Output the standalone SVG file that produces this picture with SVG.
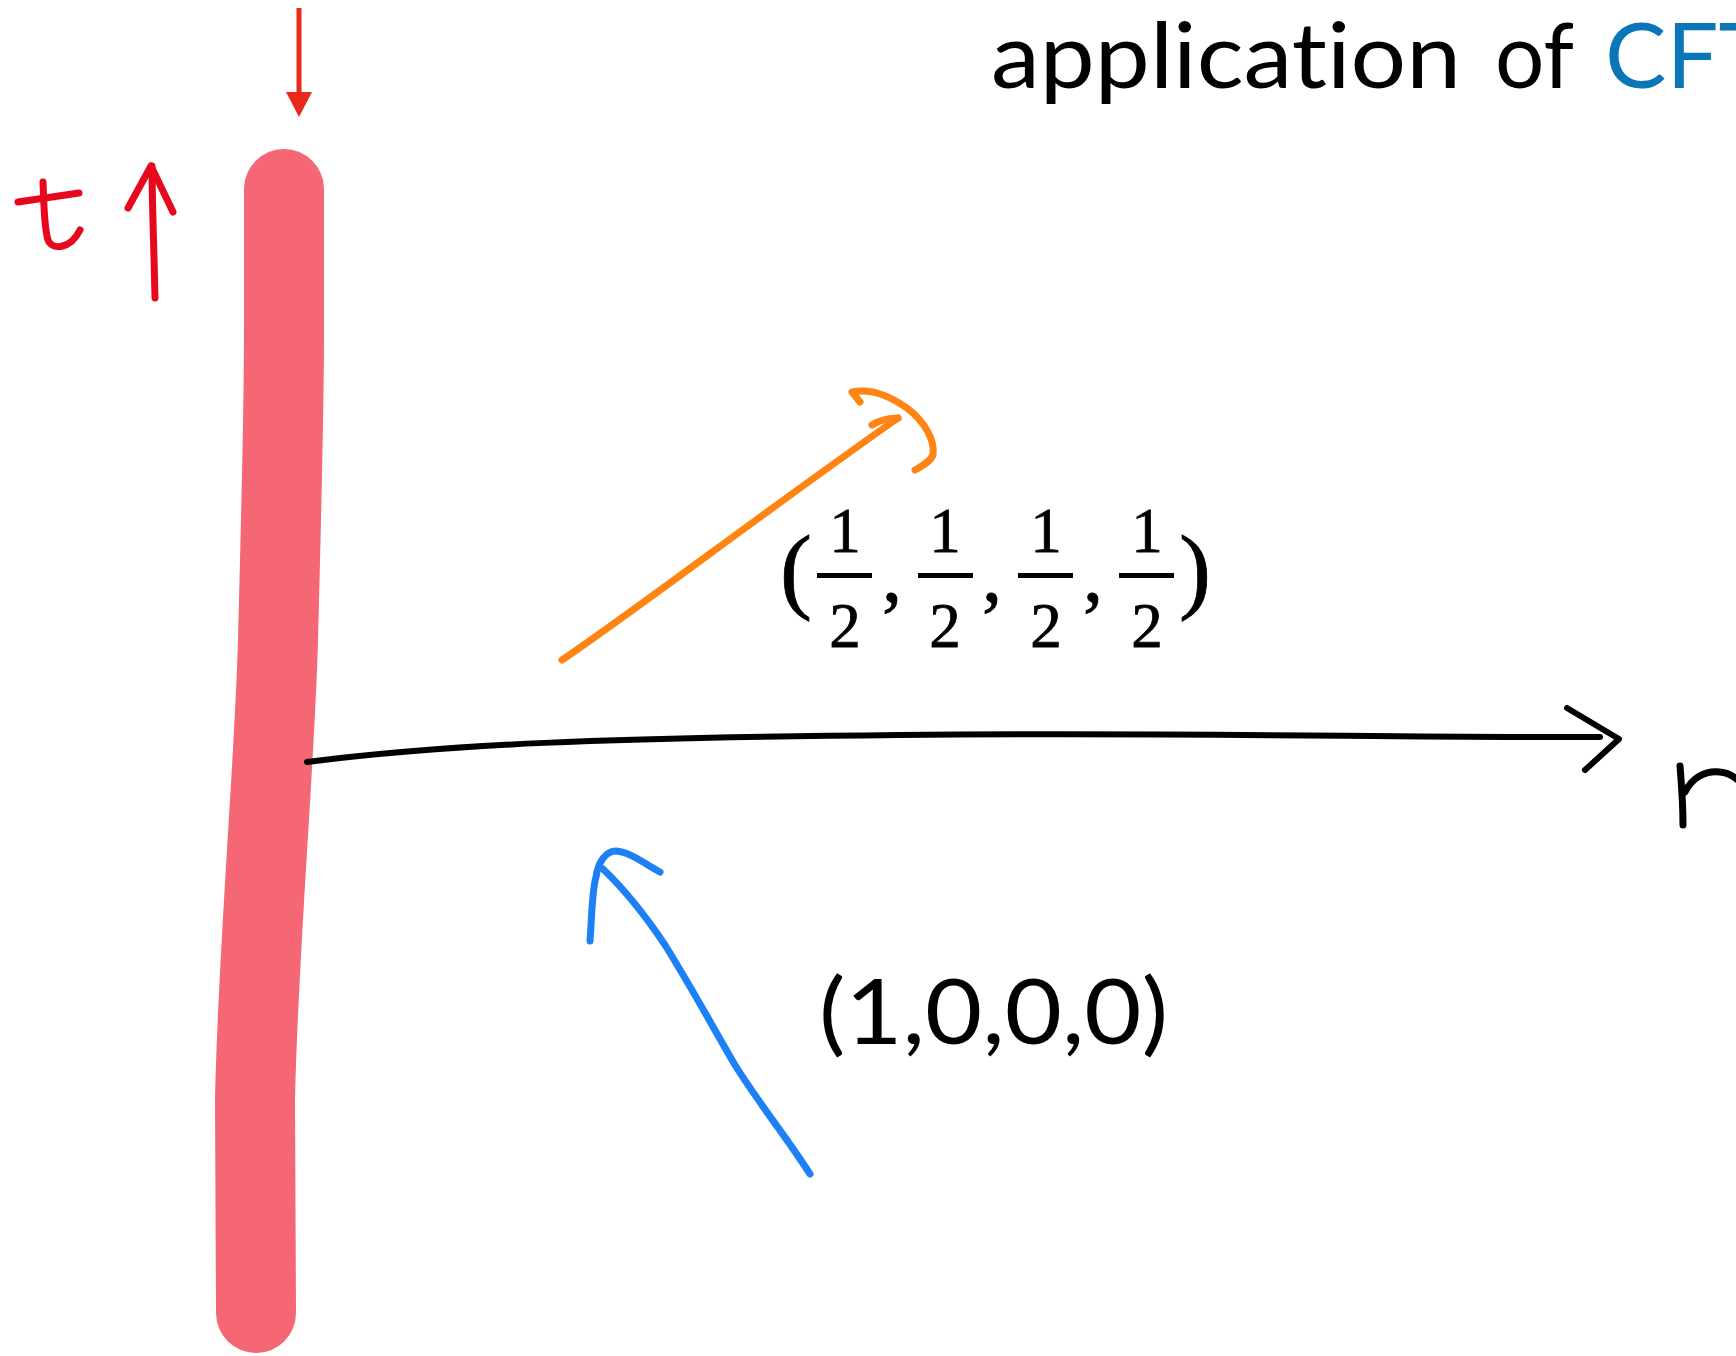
<svg xmlns="http://www.w3.org/2000/svg" width="1736" height="1356" viewBox="0 0 1736 1356">
<style>
.hand{fill:none;stroke-linecap:round;stroke-linejoin:round}
.title{font-family:Lato,"Open Sans","Liberation Sans",sans-serif;font-size:92px;fill:#000;font-variant-ligatures:none;font-feature-settings:"liga" 0,"clig" 0}
.math{font-family:"Liberation Serif","Times New Roman",serif;fill:#000;stroke:#000;stroke-width:0.8}
</style>
<rect width="1736" height="1356" fill="#fff"/>
<g id="title">
<text class="title" x="991" y="88" textLength="470" lengthAdjust="spacingAndGlyphs">application</text>
<text class="title" x="1495" y="88" textLength="79" lengthAdjust="spacingAndGlyphs">of</text>
<text class="title" x="1605" y="88" style="fill:#0A76B8">CFT</text>
</g>
<g id="boundary">
<path class="hand" d="M284,189 L284,330 C284,420 281,520 278,640 C275,760 258,950 255,1100 L256,1313" stroke="#F56774" stroke-width="80"/>
</g>
<g id="top-marker">
<line x1="299" y1="8" x2="299" y2="95" stroke="#E8291B" stroke-width="5"/>
<polygon points="286,92 312,92 299,117" fill="#E8291B"/>
</g>
<g id="time-label">
<path class="hand" d="M18,202 L79,193" stroke="#E8081E" stroke-width="7"/>
<path class="hand" d="M43,182 C44,205 44,228 48,240 C52,250 70,250 80,230" stroke="#E8081E" stroke-width="7"/>
<path class="hand" d="M155,298 C154,250 152,200 152,166" stroke="#E8081E" stroke-width="7"/>
<path class="hand" d="M128,208 L151,166 L173,212" stroke="#E8081E" stroke-width="7"/>
</g>
<g id="r-label">
<path class="hand" d="M1680,766 C1682,790 1683,810 1683,825" stroke="#000" stroke-width="7"/>
<path class="hand" d="M1685,792 C1692,778 1705,770 1720,772 C1730,773 1736,778 1740,782" stroke="#000" stroke-width="7"/>
</g>
<g id="connectors">
<path class="hand" d="M307,762 C450,744 600,738 900,735 S1400,738 1600,737" stroke="#000" stroke-width="6"/>
<path class="hand" d="M1567,708 L1619,739 L1585,770" stroke="#000" stroke-width="6"/>
<path class="hand" d="M562,660 C640,607 760,515 898,418" stroke="#FF8412" stroke-width="7"/>
<path class="hand" d="M872,425 C880,420 888,418 898,418" stroke="#FF8412" stroke-width="7"/>
<path class="hand" d="M860,402 L852,392 C870,388 890,396 907,408 C925,422 935,440 933,455 C930,462 922,466 915,470" stroke="#FF8412" stroke-width="7"/>
<path class="hand" d="M810,1174 C785,1135 760,1105 735,1065 C710,1022 690,985 665,945 C645,915 625,890 603,869" stroke="#1E80F5" stroke-width="7"/>
<path class="hand" d="M590,941 C592,915 592,890 596,877 C598,862 606,851 616,851 C630,852 645,864 660,872" stroke="#1E80F5" stroke-width="7"/>
</g>
<g id="label-half">
<text class="math" x="796" y="601" font-size="96" text-anchor="middle">(</text>
<text class="math" x="1195" y="601" font-size="96" text-anchor="middle">)</text>
<g font-size="63" text-anchor="middle">
<text class="math" x="845" y="552">1</text>
<text class="math" x="945" y="552">1</text>
<text class="math" x="1046" y="552">1</text>
<text class="math" x="1147" y="552">1</text>
<text class="math" x="845" y="647">2</text>
<text class="math" x="945" y="647">2</text>
<text class="math" x="1046" y="647">2</text>
<text class="math" x="1147" y="647">2</text>
</g>
<g fill="#000">
<rect x="817" y="573" width="55" height="5"/>
<rect x="918" y="573" width="55" height="5"/>
<rect x="1018" y="573" width="55" height="5"/>
<rect x="1119" y="573" width="55" height="5"/>
</g>
<g font-size="80">
<text class="math" x="882" y="601">,</text>
<text class="math" x="982" y="601">,</text>
<text class="math" x="1083" y="601">,</text>
</g>
</g>
<g id="label-one">
<text class="title" x="819" y="1044" textLength="349" lengthAdjust="spacingAndGlyphs">(1,0,0,0)</text>
</g>
</svg>
